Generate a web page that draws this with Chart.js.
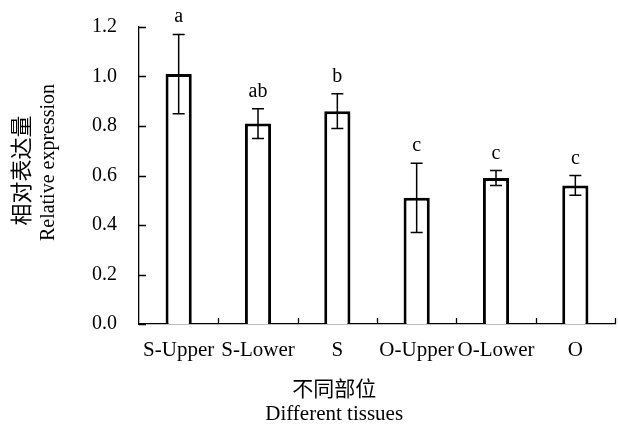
<!DOCTYPE html>
<html>
<head>
<meta charset="utf-8">
<script src="https://cdn.jsdelivr.net/npm/chart.js@4"></script>
<style>
  html, body { margin: 0; padding: 0; background: #fff; }
  #wrap { width: 618px; height: 427px; }
</style>
</head>
<body>
<div id="wrap"><canvas id="grafico" width="618" height="427"></canvas></div>
<script>
// Dados do gráfico
const categorias = ['S-Upper', 'S-Lower', 'S', 'O-Upper', 'O-Lower', 'O'];
const valores = [1.01, 0.81, 0.86, 0.51, 0.59, 0.56];
const erros = [0.16, 0.06, 0.07, 0.14, 0.03, 0.04];
const letras = ['a', 'ab', 'b', 'c', 'c', 'c'];
const ticksY = [0, 0.2, 0.4, 0.6, 0.8, 1.0, 1.2];
const tituloX = ['不同部位', 'Different tissues'];
const tituloY = ['相对表达量', 'Relative expression'];

const fonte = "'Liberation Serif', 'Times New Roman', 'Noto Sans CJK SC', serif";

// Barras de erro e letras de significância
const pluginErros = {
    id: 'erros',
    afterDatasetsDraw(chart) {
        const ctx = chart.ctx;
        const yScale = chart.scales.y;
        const meta = chart.getDatasetMeta(0);
        ctx.save();
        ctx.strokeStyle = '#000';
        ctx.lineWidth = 1.5;
        ctx.fillStyle = '#000';
        ctx.font = '20px ' + fonte;
        ctx.textAlign = 'center';
        ctx.textBaseline = 'alphabetic';
        meta.data.forEach((bar, i) => {
            const x = bar.x;
            const yTopo = yScale.getPixelForValue(valores[i] + erros[i]);
            const yBase = yScale.getPixelForValue(valores[i] - erros[i]);
            ctx.beginPath();
            ctx.moveTo(x, yTopo);
            ctx.lineTo(x, yBase);
            ctx.moveTo(x - 6, yTopo);
            ctx.lineTo(x + 6, yTopo);
            ctx.moveTo(x - 6, yBase);
            ctx.lineTo(x + 6, yBase);
            ctx.stroke();
            ctx.fillText(letras[i], x, yTopo - 12);
        });
        ctx.restore();
    }
};

// Marcas dos eixos voltadas para dentro e títulos dos eixos
const pluginEixos = {
    id: 'eixos',
    afterDraw(chart) {
        const ctx = chart.ctx;
        const area = chart.chartArea;
        const xScale = chart.scales.x;
        const yScale = chart.scales.y;
        ctx.save();
        ctx.strokeStyle = '#000';
        ctx.lineWidth = 1.3;
        ctx.beginPath();
        yScale.ticks.forEach(t => {
            const y = Math.round(yScale.getPixelForValue(t.value)) + 0.5;
            ctx.moveTo(area.left, y);
            ctx.lineTo(area.left + 7, y);
        });
        const passo = xScale.getPixelForValue(1) - xScale.getPixelForValue(0);
        for (let i = 0; i < categorias.length; i++) {
            const x = Math.round(xScale.getPixelForValue(i) + passo / 2) + 0.5;
            ctx.moveTo(x, area.bottom);
            ctx.lineTo(x, area.bottom - 6);
        }
        ctx.stroke();

        // Título do eixo X (ligeiramente à esquerda do rótulo "S")
        ctx.fillStyle = '#000';
        ctx.textAlign = 'center';
        ctx.textBaseline = 'middle';
        const cx = xScale.getPixelForValue(2) - passo * 0.04;
        ctx.font = '21px ' + fonte;
        ctx.fillText(tituloX[0], cx, area.bottom + 66);
        ctx.fillText(tituloX[1], cx, area.bottom + 90);

        // Título do eixo Y (duas linhas giradas)
        const cy = (area.top + area.bottom) / 2;
        ctx.save();
        ctx.translate(23, cy - 5);
        ctx.rotate(-Math.PI / 2);
        ctx.font = '22px ' + fonte;
        ctx.fillText(tituloY[0], 0, 0);
        ctx.restore();
        ctx.save();
        ctx.translate(49, cy - 13);
        ctx.rotate(-Math.PI / 2);
        ctx.font = '20px ' + fonte;
        ctx.fillText(tituloY[1], 0, 0);
        ctx.restore();
        ctx.restore();
    }
};

new Chart(document.getElementById('grafico').getContext('2d'), {
    type: 'bar',
    data: {
        labels: categorias,
        datasets: [{
            data: valores,
            backgroundColor: '#fff',
            borderColor: '#000',
            borderWidth: 3,
            barPercentage: 0.33,
            categoryPercentage: 1
        }]
    },
    options: {
        responsive: false,
        animation: false,
        layout: { padding: { top: 27, right: 3, left: 0, bottom: 0 } },
        plugins: {
            legend: { display: false },
            tooltip: { enabled: false }
        },
        scales: {
            x: {
                grid: { display: false, drawTicks: false },
                border: { display: true, color: '#000', width: 1.3 },
                ticks: {
                    color: '#000',
                    font: { family: fonte, size: 21 },
                    padding: 14,
                    autoSkip: false,
                    maxRotation: 0
                },
                afterFit(scale) { scale.height = 103; }
            },
            y: {
                min: 0,
                max: 1.2,
                afterBuildTicks(scale) { scale.ticks = ticksY.map(v => ({ value: v })); },
                grid: { display: false, drawTicks: false },
                border: { display: true, color: '#000', width: 1.3 },
                ticks: {
                    color: '#000',
                    font: { family: fonte, size: 20 },
                    padding: 22,
                    callback: v => Number(v).toFixed(1)
                },
                afterFit(scale) {
                    scale.width = 139;
                    // o padding dos rótulos não deve empurrar a área do gráfico
                    scale.paddingTop = 10;
                    scale.paddingBottom = 10;
                }
            }
        }
    },
    plugins: [pluginErros, pluginEixos]
});
</script>
</body>
</html>
